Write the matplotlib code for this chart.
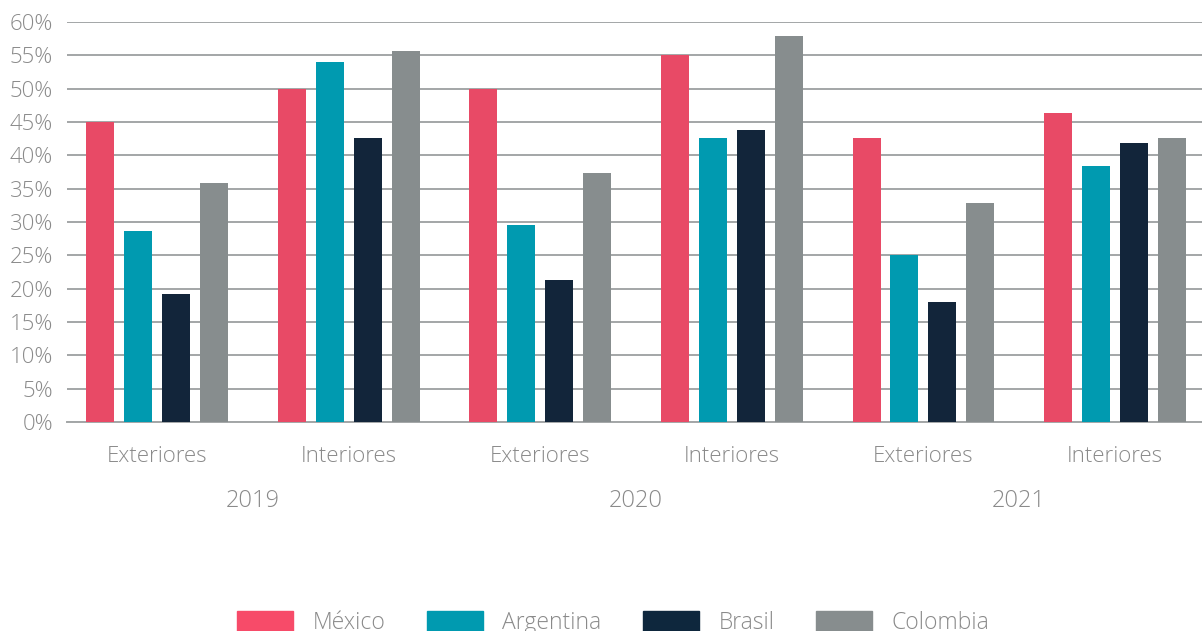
import matplotlib
matplotlib.use("Agg")
import matplotlib.pyplot as plt
import numpy as np

plt.rcParams["font.family"] = ["Open Sans", "DejaVu Sans"]

YEARS = ["2019", "2020", "2021"]
CATEGORIES = ["Exteriores", "Interiores"] * 3
SERIES = ["México", "Argentina", "Brasil", "Colombia"]
COLORS = ["#E84A66", "#009AB0", "#12253A", "#878D8E"]
LEGEND_COLORS = ["#F74B69", "#009AB0", "#0E273D", "#878D8E"]

mexico = [45.0, 50.0, 50.0, 55.0, 42.6, 46.4]
argentina = [28.7, 54.0, 29.6, 42.6, 25.1, 38.4]
brasil = [19.2, 42.6, 21.3, 43.8, 18.0, 41.9]
colombia = [35.9, 55.7, 37.4, 57.9, 32.9, 42.6]
VALUES = [mexico, argentina, brasil, colombia]

TEXT = "#8a8a8a"
GRID = "#a3a6a7"

fig = plt.figure(figsize=(12.02, 6.31), dpi=100)
ax = fig.add_axes([67 / 1202, (631 - 422) / 631, 1 - 67 / 1202, 400 / 631])

x = np.arange(len(CATEGORIES))
width = 0.146
step = 0.198
for i, (name, vals, col) in enumerate(zip(SERIES, VALUES, COLORS)):
    ax.bar(x + (i - 1.5) * step, vals, width, color=col, label=name, zorder=3)

ax.set_ylim(0, 60)
ax.set_xlim(-0.47, 5.454)
ax.set_yticks(np.arange(0, 61, 5))
ax.set_yticklabels([f"{v}%" for v in range(0, 61, 5)])
ax.yaxis.grid(True, color=GRID, linewidth=1.4, zorder=0)
ax.set_axisbelow(True)
for s in ["top", "right", "left"]:
    ax.spines[s].set_visible(False)
ax.spines["bottom"].set_color(GRID)
ax.spines["bottom"].set_linewidth(1.4)
ax.tick_params(axis="y", length=0, pad=10, labelsize=16, labelcolor=TEXT)
ax.tick_params(axis="x", length=0, pad=17, labelsize=16, labelcolor=TEXT)
ax.set_xticks(x)
ax.set_xticklabels(CATEGORIES)
for tl in ax.get_xticklabels() + ax.get_yticklabels():
    tl.set_fontweight("light")

# year labels under each pair
for j, yr in enumerate(YEARS):
    xc = (x[2 * j] + x[2 * j + 1]) / 2
    ax.text(xc, -11.9, yr, ha="center", va="center", fontsize=17,
            color=TEXT, fontweight="light", transform=ax.transData)

handles = [plt.Rectangle((0, 0), 1, 1, color=c) for c in LEGEND_COLORS]
leg = fig.legend(handles, SERIES, loc="upper center", ncol=4,
                 bbox_to_anchor=(613 / 1202, 1 - 611 / 631), frameon=False,
                 fontsize=16.5, handlelength=2.45, handleheight=0.97,
                 handletextpad=0.85, columnspacing=1.8, borderaxespad=0,
                 borderpad=0)
for t in leg.get_texts():
    t.set_color(TEXT)
    t.set_fontweight("light")

fig.savefig("out.png", dpi=100)
